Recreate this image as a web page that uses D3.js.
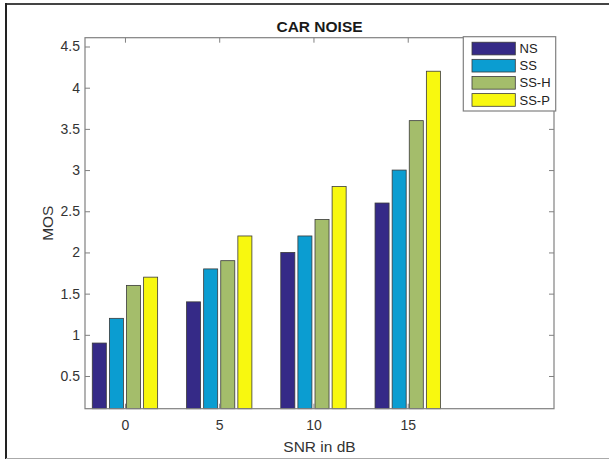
<!DOCTYPE html>
<html>
<head>
<meta charset="utf-8">
<script src="https://cdn.jsdelivr.net/npm/d3@7"></script>
<style>
  html, body { margin: 0; padding: 0; background: #fff; }
  svg { display: block; font-family: Arial, "Liberation Sans", sans-serif; }
</style>
</head>
<body>
<svg id="chart" width="609" height="459"></svg>
<script>
// ---- data ----
const categories = [0, 5, 10, 15];
const seriesNames = ["NS", "SS", "SS-H", "SS-P"];
const valuesNS  = [0.9, 1.4, 2.0, 2.6];
const valuesSS  = [1.2, 1.8, 2.2, 3.0];
const valuesSSH = [1.6, 1.9, 2.4, 3.6];
const valuesSSP = [1.7, 2.2, 2.8, 4.2];
const yTicks = [0.5, 1, 1.5, 2, 2.5, 3, 3.5, 4, 4.5];
const xTicks = [0, 5, 10, 15];
const titleText = "CAR NOISE";
const xLabel = "SNR in dB";
const yLabel = "MOS";

const seriesValues = [valuesNS, valuesSS, valuesSSH, valuesSSP];
const colors = ["#352a87", "#0b9dd1", "#a4bd6b", "#f8f80f"];

// ---- layout ----
const svg = d3.select("#chart");
const L = 85, R = 554, T = 37.7, B = 408.7;

// outer frame
svg.append("line").attr("x1", 6).attr("x2", 609).attr("y1", 4).attr("y2", 4)
  .attr("stroke", "#444").attr("stroke-width", 2);
svg.append("line").attr("x1", 6).attr("x2", 6).attr("y1", 3).attr("y2", 459)
  .attr("stroke", "#222").attr("stroke-width", 2);
svg.append("line").attr("x1", 6).attr("x2", 609).attr("y1", 458.5).attr("y2", 458.5)
  .attr("stroke", "#aaa").attr("stroke-width", 1);

const x = d3.scaleLinear().domain([-2.12, 22.76]).range([L, R]);
const y = d3.scaleLinear().domain([0.103, 4.607]).range([B, T]);

const groupSpan = x(3.63) - x(0);
const inner = d3.scaleBand().domain(seriesNames)
  .range([-groupSpan / 2, groupSpan / 2])
  .paddingInner(0.18).paddingOuter(0.09);

// bars
seriesNames.forEach((name, si) => {
  svg.append("g").selectAll("rect")
    .data(categories.map((c, i) => ({ c, v: seriesValues[si][i] })))
    .join("rect")
    .attr("x", d => x(d.c) + inner(name))
    .attr("width", inner.bandwidth())
    .attr("y", d => y(d.v))
    .attr("height", d => y(y.domain()[0]) - y(d.v))
    .attr("fill", colors[si])
    .attr("stroke", "#3a3a3a")
    .attr("stroke-width", 0.8);
});

// axes box
const axisColor = "#808080";
svg.append("rect").attr("x", L).attr("y", T).attr("width", R - L).attr("height", B - T)
  .attr("fill", "none").attr("stroke", axisColor).attr("stroke-width", 1.2);

const tickLen = 5;
const fontTick = 14;

// y axis (left) via d3 axis, ticks inward
const yAxisL = d3.axisLeft(y).tickValues(yTicks).tickSizeInner(-tickLen).tickSizeOuter(0)
  .tickPadding(5).tickFormat(d3.format("~g"));
const gYL = svg.append("g").attr("transform", `translate(${L},0)`).call(yAxisL);
gYL.select(".domain").remove();
gYL.selectAll("line").attr("stroke", axisColor);
gYL.selectAll("text").attr("font-size", fontTick).attr("fill", "#333")
  .attr("font-family", "Arial, 'Liberation Sans', sans-serif");

const yAxisR = d3.axisRight(y).tickValues(yTicks).tickSizeInner(-tickLen).tickSizeOuter(0).tickFormat("");
const gYR = svg.append("g").attr("transform", `translate(${R},0)`).call(yAxisR);
gYR.select(".domain").remove();
gYR.selectAll("line").attr("stroke", axisColor);

// x axis bottom
const xAxisB = d3.axisBottom(x).tickValues(xTicks).tickSizeInner(-tickLen).tickSizeOuter(0)
  .tickPadding(11).tickFormat(d3.format("d"));
const gXB = svg.append("g").attr("transform", `translate(0,${B})`).call(xAxisB);
gXB.select(".domain").remove();
gXB.selectAll("line").attr("stroke", axisColor);
gXB.selectAll("text").attr("font-size", fontTick).attr("fill", "#333")
  .attr("font-family", "Arial, 'Liberation Sans', sans-serif");

const xAxisT = d3.axisTop(x).tickValues(xTicks).tickSizeInner(-tickLen).tickSizeOuter(0).tickFormat("");
const gXT = svg.append("g").attr("transform", `translate(0,${T})`).call(xAxisT);
gXT.select(".domain").remove();
gXT.selectAll("line").attr("stroke", axisColor);

// title
svg.append("text").attr("x", (L + R) / 2).attr("y", 32).attr("text-anchor", "middle")
  .attr("font-size", 15.5).attr("font-weight", "bold").attr("fill", "#1a1a1a").text(titleText);

// x label
svg.append("text").attr("x", (L + R) / 2).attr("y", 452).attr("text-anchor", "middle")
  .attr("font-size", 15.5).attr("fill", "#333").text(xLabel);

// y label
svg.append("text").attr("transform", `translate(53,${(T + B) / 2}) rotate(-90)`)
  .attr("text-anchor", "middle").attr("font-size", 15.5).attr("fill", "#333").text(yLabel);

// legend
const lg = svg.append("g");
lg.append("rect").attr("x", 463.3).attr("y", 36.7).attr("width", 92.4).attr("height", 74.3)
  .attr("fill", "#fff").attr("stroke", axisColor).attr("stroke-width", 1.2);
const legendY = d3.scaleBand().domain(seriesNames).range([40.5, 108]).paddingInner(0.26).paddingOuter(0.1);
seriesNames.forEach((name, i) => {
  lg.append("rect").attr("x", 472).attr("y", legendY(name)).attr("width", 43.3)
    .attr("height", legendY.bandwidth()).attr("fill", colors[i])
    .attr("stroke", "#3a3a3a").attr("stroke-width", 0.8);
  lg.append("text").attr("x", 519.5).attr("y", legendY(name) + legendY.bandwidth() / 2)
    .attr("dy", "0.36em").attr("font-size", 13).attr("fill", "#222").text(name);
});
</script>
</body>
</html>
